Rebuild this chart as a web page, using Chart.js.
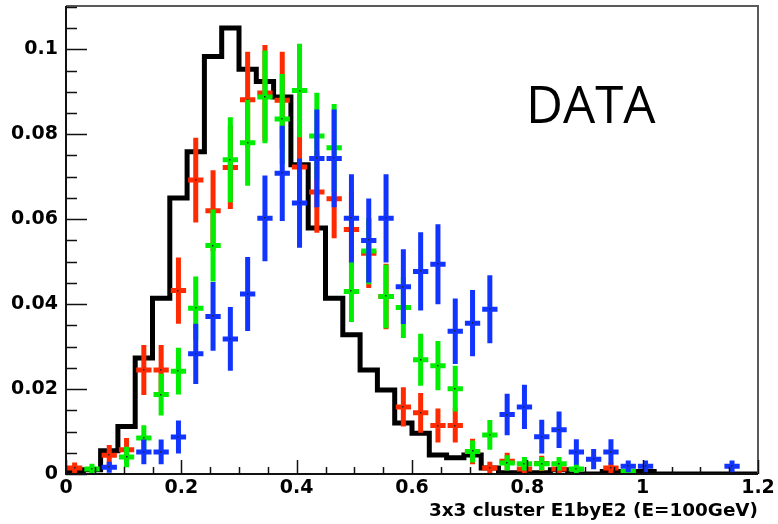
<!DOCTYPE html>
<html>
<head>
<meta charset="utf-8">
<title>3x3 cluster E1byE2</title>
<script src="https://cdn.jsdelivr.net/npm/chart.js@4.4.1/dist/chart.umd.min.js"></script>
<style>
  html, body { margin: 0; padding: 0; background: #fff; }
</style>
</head>
<body>
<canvas id="myChart" width="778" height="524"></canvas>
<script>
// binning of the histograms: 40 bins of 0.03 between 0 and 1.2
const binLow = 0;
const binWidth = 0.03;
const nBins = 40;

// tick labels
const xTickValues = [0, 0.2, 0.4, 0.6, 0.8, 1, 1.2];
const yTickValues = [0, 0.02, 0.04, 0.06, 0.08, 0.1];
const xMinorStep = 0.05;
const yMinorStep = 0.005;
const yMax = 0.1102;

// black histogram (bin contents)
const blackHist = [0.0005, 0.001, 0.0055, 0.0112, 0.0273, 0.0414, 0.065, 0.0759, 0.0983, 0.105,
  0.0953, 0.0924, 0.0888, 0.0728, 0.0579, 0.0414, 0.0328, 0.0245, 0.0198, 0.012,
  0.0096, 0.0045, 0.0038, 0.0045, 0.0014, 0.0003, 0.0003, 0.0003, 0.001, 0,
  0, 0.0006, 0.0006, 0.0006, 0, 0, 0, 0, 0, 0];

// red points
const redVal = [0.0014, null, 0.0044, 0.0057, 0.0245, 0.0245, 0.0432, 0.0692, 0.062, 0.0722,
  0.0881, 0.0897, 0.088, 0.0723, 0.0664, 0.0648, 0.0576, 0.052, 0.0418, 0.0158,
  0.0144, 0.0114, 0.0114, 0.0053, 0.0014, 0.003, 0.0012, 0.0025, 0.0012, null,
  null, 0.0014, null, null, null, null, null, null, null, null];
const redErr = [0.0013, 0, 0.0024, 0.0028, 0.0059, 0.0059, 0.0078, 0.01, 0.0095, 0.0098,
  0.0113, 0.0113, 0.0114, 0.0098, 0.0096, 0.0093, 0.009, 0.0082, 0.0077, 0.0046,
  0.0047, 0.004, 0.004, 0.003, 0.0015, 0.002, 0.0012, 0.0018, 0.0012, 0,
  0, 0.0013, 0, 0, 0, 0, 0, 0, 0, 0];

// green points
const greenVal = [null, 0.0012, null, 0.004, 0.0085, 0.0187, 0.0242, 0.039, 0.0538, 0.074,
  0.078, 0.0888, 0.0836, 0.0903, 0.0796, 0.0768, 0.043, 0.0525, 0.0418, 0.0392,
  0.0269, 0.0255, 0.0201, 0.0053, 0.0092, 0.0026, 0.0024, 0.0024, 0.0024, 0.0012,
  null, null, 0.0006, null, null, null, null, null, null, null];
const greenErr = [0, 0.0012, 0, 0.0024, 0.003, 0.0049, 0.0055, 0.0075, 0.0085, 0.01,
  0.0101, 0.0109, 0.0106, 0.011, 0.0102, 0.0103, 0.0072, 0.0078, 0.0075, 0.0072,
  0.0061, 0.0058, 0.0054, 0.0026, 0.0035, 0.0018, 0.0016, 0.0016, 0.0016, 0.0012,
  0, 0, 0.0006, 0, 0, 0, 0, 0, 0, 0];

// blue points
const blueVal = [null, null, 0.0016, null, 0.0052, 0.0052, 0.0087, 0.0283, 0.0371, 0.0318,
  0.0424, 0.0602, 0.0708, 0.0638, 0.0743, 0.0743, 0.0602, 0.055, 0.0602, 0.0441,
  0.0477, 0.0494, 0.0336, 0.0355, 0.0388, 0.014, 0.0158, 0.0088, 0.0104, 0.0052,
  0.0035, 0.0052, 0.0018, 0.0018, null, null, null, null, 0.0018, null];
const blueErr = [0, 0, 0.0013, 0, 0.0029, 0.0029, 0.0039, 0.0071, 0.0081, 0.0075,
  0.0087, 0.0101, 0.0112, 0.0105, 0.0115, 0.0115, 0.0104, 0.0099, 0.0104, 0.0088,
  0.0092, 0.0094, 0.0077, 0.0078, 0.008, 0.0049, 0.0052, 0.004, 0.0043, 0.003,
  0.0024, 0.003, 0.0014, 0.0014, 0, 0, 0, 0, 0.0014, 0];

const xTitle = '3x3 cluster E1byE2 (E=100GeV)';
const tagText = 'DATA';

// outline of the black histogram: each bin gives a flat segment
function histOutline(values) {
  const pts = [];
  values.forEach(function (v, i) {
    const lo = binLow + i * binWidth;
    pts.push({x: lo, y: v});
    pts.push({x: lo + binWidth, y: v});
  });
  return pts;
}

// points at bin centres, empty bins are left out
function binPoints(values) {
  const pts = [];
  values.forEach(function (v, i) {
    if (v === null) return;
    pts.push({x: binLow + (i + 0.5) * binWidth, y: v, i: i});
  });
  return pts;
}

// draws the ROOT style crosses (x error = bin width, y error bar)
const errorBars = {
  id: 'errorBars',
  afterDatasetsDraw(chart) {
    const {ctx, chartArea, scales} = chart;
    const xs = scales.x, ys = scales.y;
    ctx.save();
    ctx.beginPath();
    ctx.rect(chartArea.left, chartArea.top, chartArea.right - chartArea.left, chartArea.bottom - chartArea.top + 3);
    ctx.clip();
    chart.data.datasets.forEach(function (ds) {
      if (!ds.errors) return;
      ds.data.forEach(function (p) {
        const e = ds.errors[p.i];
        const px = xs.getPixelForValue(p.x);
        const py = ys.getPixelForValue(p.y);
        ctx.strokeStyle = ds.borderColor;
        ctx.lineWidth = 5;
        ctx.lineCap = 'butt';
        ctx.beginPath();
        ctx.moveTo(px, ys.getPixelForValue(p.y + e));
        ctx.lineTo(px, ys.getPixelForValue(p.y - e));
        ctx.moveTo(xs.getPixelForValue(p.x - binWidth / 2) + 1, py);
        ctx.lineTo(xs.getPixelForValue(p.x + binWidth / 2) - 1, py);
        ctx.stroke();
        ctx.fillStyle = '#222';
        ctx.fillRect(Math.round(px) - 1, Math.round(py) - 1, 1.5, 1.5);
      });
    });
    ctx.restore();
  }
};

// frame, inner ticks and the DATA tag
const frameAndTicks = {
  id: 'frameAndTicks',
  afterDraw(chart) {
    const {ctx, chartArea} = chart;
    const xs = chart.scales.x, ys = chart.scales.y;
    const l = chartArea.left, r = chartArea.right, t = chartArea.top, b = chartArea.bottom;
    ctx.save();
    ctx.lineWidth = 2;
    ctx.strokeStyle = '#5a5a5a';
    ctx.beginPath();
    ctx.moveTo(l, t); ctx.lineTo(r, t); ctx.lineTo(r, b);
    ctx.stroke();
    ctx.strokeStyle = '#111';
    ctx.beginPath();
    ctx.moveTo(l, t); ctx.lineTo(l, b); ctx.lineTo(r, b);
    ctx.stroke();

    ctx.lineWidth = 1.5;
    ctx.beginPath();
    // y ticks, pointing into the frame
    for (let v = 0; v <= yMax + 1e-9; v += yMinorStep) {
      const major = yTickValues.some(function (m) { return Math.abs(m - v) < 1e-6; });
      const py = Math.round(ys.getPixelForValue(v)) + 0.5;
      ctx.moveTo(l, py);
      ctx.lineTo(l + (major ? 21 : 11), py);
    }
    // x ticks
    for (let v = 0; v <= 1.2 + 1e-9; v += xMinorStep) {
      const major = xTickValues.some(function (m) { return Math.abs(m - v) < 1e-6; });
      const px = Math.round(xs.getPixelForValue(v)) + 0.5;
      ctx.moveTo(px, b);
      ctx.lineTo(px, b - (major ? 14 : 7));
    }
    ctx.stroke();

    ctx.fillStyle = '#000';
    ctx.font = '51px "Open Sans"';
    ctx.textBaseline = 'alphabetic';
    ctx.fillText(tagText, 526, 123);
    ctx.restore();
  }
};

const tickFont = {family: '"DejaVu Sans"', size: 19, weight: 'bold'};

const data = {
  datasets: [
    {
      type: 'line',
      label: 'reference',
      data: histOutline(blackHist),
      borderColor: '#000',
      borderWidth: 5,
      borderJoinStyle: 'miter',
      pointRadius: 0,
      tension: 0,
      fill: false
    },
    {
      type: 'scatter',
      label: 'red',
      data: binPoints(redVal),
      errors: redErr,
      borderColor: 'rgb(255, 42, 0)',
      pointRadius: 0
    },
    {
      type: 'scatter',
      label: 'green',
      data: binPoints(greenVal),
      errors: greenErr,
      borderColor: 'rgb(0, 238, 0)',
      pointRadius: 0
    },
    {
      type: 'scatter',
      label: 'blue',
      data: binPoints(blueVal),
      errors: blueErr,
      borderColor: 'rgb(18, 52, 255)',
      pointRadius: 0
    }
  ]
};

const config = {
  type: 'scatter',
  data: data,
  options: {
    responsive: false,
    animation: false,
    layout: {padding: {left: 0, right: 20, top: 6, bottom: 0}},
    plugins: {legend: {display: false}, tooltip: {enabled: false}},
    scales: {
      x: {
        type: 'linear',
        min: 0,
        max: 1.2,
        grid: {display: false, drawTicks: false},
        border: {display: false},
        afterBuildTicks: function (scale) {
          scale.ticks = xTickValues.map(function (v) { return {value: v}; });
        },
        afterFit: function (scale) {
          scale.height = 50;
          scale.paddingLeft = 0;
          scale.paddingRight = 0;
        },
        ticks: {
          color: '#000',
          font: tickFont,
          padding: 3,
          maxRotation: 0,
          autoSkip: false,
          callback: function (v) { return String(+v.toFixed(3)); }
        },
        title: {
          display: true,
          text: xTitle,
          align: 'end',
          color: '#000',
          font: {family: '"DejaVu Sans"', size: 18.4, weight: 'bold'},
          padding: {top: 0, bottom: 2}
        }
      },
      y: {
        type: 'linear',
        min: 0,
        max: yMax,
        grid: {display: false, drawTicks: false},
        border: {display: false},
        afterBuildTicks: function (scale) {
          scale.ticks = yTickValues.map(function (v) { return {value: v}; });
        },
        afterFit: function (scale) {
          scale.width = 66;
          scale.paddingTop = 0;
          scale.paddingBottom = 0;
        },
        ticks: {
          color: '#000',
          font: tickFont,
          padding: 8,
          autoSkip: false,
          callback: function (v) { return String(+v.toFixed(3)); }
        }
      }
    }
  },
  plugins: [errorBars, frameAndTicks]
};

const myChart = new Chart(document.getElementById('myChart'), config);
</script>
</body>
</html>
